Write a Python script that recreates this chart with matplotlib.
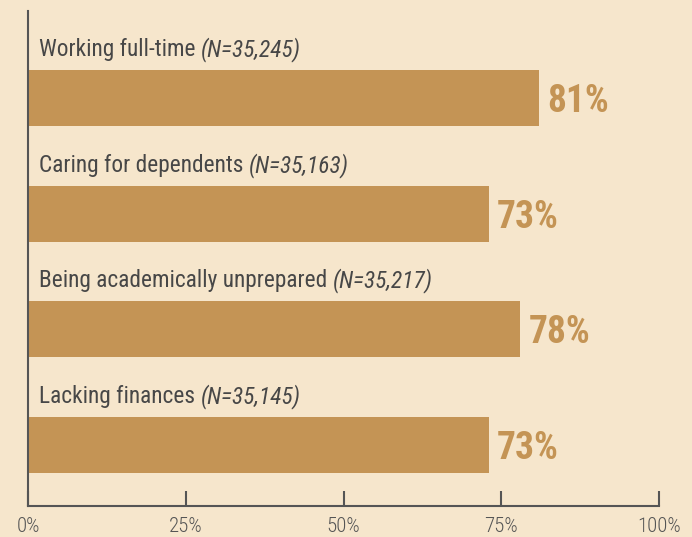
import matplotlib
matplotlib.use("Agg")
import matplotlib.pyplot as plt
from matplotlib import font_manager

categories = ["Working full-time", "Caring for dependents",
              "Being academically unprepared", "Lacking finances"]
sample_sizes = ["(N=35,245)", "(N=35,163)", "(N=35,217)", "(N=35,145)"]
percentages = [81, 73, 78, 73]
tick_values = [0, 25, 50, 75, 100]
tick_labels = ["0%", "25%", "50%", "75%", "100%"]

bg = "#f6e6cc"
bar_color = "#c49455"
text_color = "#474747"
axis_color = "#555555"

# pick a narrow face if one is installed
names = set(f.name for f in font_manager.fontManager.ttflist)
font = "DejaVu Sans"
for cand in ["Roboto Condensed", "Liberation Sans Narrow", "Open Sans Condensed"]:
    if cand in names:
        font = cand
        break
stretch = "condensed"

fig = plt.figure(figsize=(6.92, 5.37), dpi=100)
fig.patch.set_facecolor(bg)
ax = fig.add_axes([28 / 692, 1 - 506 / 537, 631 / 692, 495 / 537])
ax.set_facecolor(bg)
ax.set_xlim(0, 100)
ax.set_ylim(3.527, -0.752)

ypos = list(range(len(categories)))
ax.barh(ypos, percentages, height=0.485, color=bar_color)

for y, cat, n, p in zip(ypos, categories, sample_sizes, percentages):
    t = ax.text(1.75, y - 0.42, cat + " ", fontsize=16.8, family=font,
                stretch=stretch, color=text_color, va="center", ha="left")
    ax.annotate(n, xy=(1, 0.5), xycoords=t, fontsize=16.8, family=font,
                stretch=stretch, style="italic", color=text_color,
                va="center", ha="left")
    ax.text(p + 1.3, y + 0.03, "%d%%" % p, fontsize=27, family=font,
            stretch=stretch, weight="bold", color=bar_color,
            va="center", ha="left")

ax.set_xticks(tick_values)
ax.set_xticklabels(tick_labels, fontsize=15, family=font, stretch=stretch,
                   weight="light", color=axis_color)
ax.set_yticks([])
ax.tick_params(axis="x", direction="in", length=11, width=1.5,
               color=axis_color, pad=8)
for s in ["top", "right"]:
    ax.spines[s].set_visible(False)
for s in ["left", "bottom"]:
    ax.spines[s].set_color(axis_color)
    ax.spines[s].set_linewidth(1.5)

fig.savefig("out.png", dpi=100, facecolor=bg)
